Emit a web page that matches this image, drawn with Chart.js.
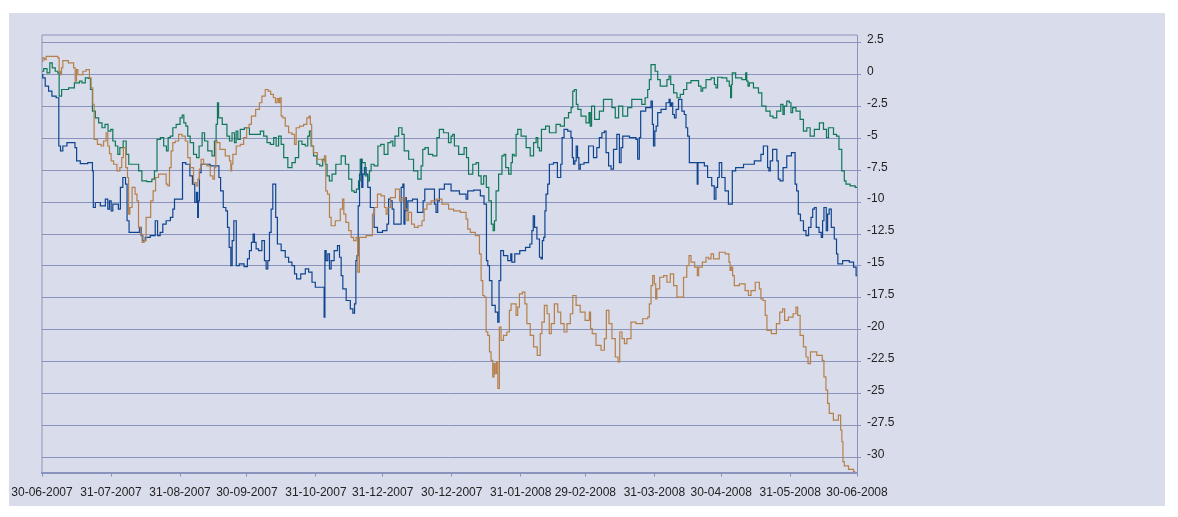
<!DOCTYPE html>
<html>
<head>
<meta charset="utf-8">
<script src="https://cdn.jsdelivr.net/npm/chart.js@4/dist/chart.umd.min.js"></script>
<style>
	body { margin:0; background:#fff; }
	#box { position:absolute; left:9px; top:13px; width:1156px; height:493px; background:#d9dcea; }
	#c { position:absolute; left:0; top:0; }
</style>
</head>
<body>
<div id="box"><canvas id="c" width="1156" height="496"></canvas></div>
<script>
// days since 30-06-2007 on x, performance (%) on y
const tickDays = [0, 31, 62, 92, 123, 153, 184, 215, 244, 275, 305, 336, 366]
const tickLabels = ['30-06-2007', '31-07-2007', '31-08-2007', '30-09-2007', '31-10-2007', '31-12-2007', '30-12-2007', '31-01-2008', '29-02-2008', '31-03-2008', '30-04-2008', '31-05-2008', '30-06-2008']
const yTicks = [2.5, 0, -2.5, -5, -7.5, -10, -12.5, -15, -17.5, -20, -22.5, -25, -27.5, -30]

const green = [
	[0,0.26],[1.5,0.47],[3,0.13],[4,0.91],[5.2,0.52],[6.7,0.26],[7.5,0.13],[7.9,-1.69],[9.7,-1.17],[14.2,-1.04],[14.9,-0.65],[16.5,-0.65],[17.2,-0.52],[18.7,-0.65],[20.2,-0.26],[21.4,-0.31],[22.1,-1.17],[23.2,-2.86],[24.7,-3.39],[26.2,-3.78],[27.7,-4.17],[28.9,-3.91],[30.4,-4.43],[31.4,-4.3],[32.2,-5.21],[33.7,-5.6],[34.4,-6.25],[35.5,-5.73],[37.4,-5.21],[38.2,-6.25],[39.7,-7.03],[42.7,-7.03],[44.1,-7.55],[45.6,-8.33],[48.6,-8.39],[50.1,-8.2],[50.9,-7.55],[52.4,-5.08],[53.9,-4.95],[55.4,-5.6],[56.4,-5.99],
	[56.9,-4.95],[58.4,-4.82],[59.1,-4.17],[61.4,-3.91],[62.6,-3.39],[63.3,-3.18],[64.1,-3.78],[65.1,-4.04],[65.8,-4.82],[67.3,-5.34],[68.8,-6.25],[70,-6.51],[71.1,-5.6],[72.7,-4.56],[73.3,-5.21],[75.6,-5.99],[77.1,-6.38],[77.8,-5.21],[78.6,-3.91],[79,-2.21],[79.6,-3.39],[82.3,-3.91],[83.8,-4.82],[84.6,-5.21],[86.1,-4.56],[86.8,-5.34],[87.6,-4.43],[88.3,-5.08],[89.8,-4.3],[92,-4.17],[94.3,-4.69],[97.3,-4.69],[98.8,-4.43],[100.3,-4.82],[101.8,-5.34],[103.3,-5.47],[104.8,-4.95],[105.5,-5.6],[107,-4.82],[107.8,-5.47],[109.3,-6.51],[111.5,-7.29],[113,-6.9],[114.5,-6.51],[116,-5.21],
	[117.5,-5.47],[119,-5.6],[119.7,-4.82],[120.5,-4.43],[121.2,-5.6],[122.7,-6.38],[124.2,-7.03],[125.3,-7.16],[126.8,-6.64],[127.7,-7.03],[128.3,-7.94],[129.8,-8.33],[130.7,-7.81],[133.2,-7.03],[135.5,-6.38],[137,-7.03],[138.5,-8.2],[139.7,-9.11],[140.7,-9.24],[141.7,-8.98],[142.6,-8.33],[143.2,-6.64],[144.4,-6.9],[145.9,-7.94],[146.7,-8.33],[147.4,-7.55],[148.2,-7.03],[150.1,-7.16],[151.6,-5.6],[152.7,-5.47],[154.6,-6.25],[156.1,-5.34],[157.2,-5.21],[157.9,-5.6],[159.1,-4.82],[161.2,-4.17],[162.1,-4.69],[163.2,-5.99],[166.1,-6.64],[167.6,-7.55],[169.9,-8.2],[170.6,-7.16],[171.4,-5.86],[172.6,-5.73],[174.4,-6.25],[176.6,-6.38],
	[178.1,-4.95],[178.8,-4.3],[181.8,-4.56],[183.3,-5.34],[184.1,-4.82],[184.8,-4.69],[185.6,-5.6],[188.6,-6.25],[190.5,-5.73],[190.8,-6.51],[192.3,-7.81],[194.6,-7.03],[195.3,-6.9],[196.8,-7.94],[197.6,-8.59],[199.1,-7.94],[200,-8.85],[201.3,-9.9],[202.3,-11.72],[202.9,-12.24],[203.5,-11.46],[204.3,-9.11],[205.8,-7.81],[207.3,-6.38],[207.7,-6.25],[208.8,-7.29],[210.3,-7.81],[211,-6.9],[211.5,-6.25],[212.5,-6.38],[213.3,-4.69],[214,-4.3],[216.3,-4.82],[218.5,-5.73],[220,-6.38],[221.5,-5.34],[222.3,-4.95],[223,-5.73],[223.8,-5.99],[224.8,-4.3],[227.5,-4.04],[228.2,-4.56],[229.7,-4.56],[232,-3.91],[233.5,-4.04],[235.7,-3.39],[237.2,-2.99],[238,-2.6],[238.7,-1.3],[239.5,-1.17],[240.4,-2.34],
	[240.9,-2.73],[243.2,-3.26],[245.4,-3.78],[245.9,-2.99],[246.5,-4.04],[247.1,-2.47],[249.2,-3.52],[251.4,-2.86],[252.9,-1.95],[255.2,-1.95],[256.7,-2.6],[258.2,-3.39],[259.7,-2.47],[261.9,-3.26],[264.1,-2.6],[265.6,-1.95],[268.6,-1.95],[270.1,-2.34],[271.6,-1.82],[272.4,-1.17],[273.1,-0.39],[273.9,0.78],[274.6,0.78],[276.1,0.26],[276.9,-0.39],[278.4,-0.91],[279.9,-0.91],[281.4,-0.39],[281.8,-0.13],[282.9,-0.78],[284.4,-1.43],[285.9,-1.82],[287.4,-1.56],[288.8,-1.17],[290.3,-0.65],[292.6,-0.47],[294.1,-0.47],[295.6,-0.91],[296.3,-1.3],[297.1,-1.04],[299.3,-0.39],[301.6,-0.26],
	[302.3,-0.78],[303,-1.04],[303.8,-0.21],[306.8,-0.26],[308.3,-0.52],[309,-0.91],[309.5,-1.82],[309.8,-0.78],[310.2,0.13],[312.8,-0.26],[315.8,-0.39],[316.2,0.13],[316.8,-0.52],[317.3,-0.91],[318,-0.65],[321,-1.04],[322.5,-1.43],[324,-2.47],[326.2,-2.86],[327.7,-3.26],[328.9,-3.39],[331,-2.86],[332.5,-2.34],[333,-3.13],[333.7,-2.47],[335.2,-2.08],[336,-2.21],[336.7,-2.99],[337.5,-2.6],[339.7,-2.86],[341.2,-3.52],[342.7,-4.43],[344.2,-4.17],[345.7,-4.82],[348,-4.3],[350.2,-3.78],[351.7,-4.3],[352.9,-4.95],[353.5,-4.17],[354.7,-4.17],[356.2,-4.69],[357.4,-4.82],[358.4,-5.86],[359.9,-7.55],[360.7,-8.33],[361.4,-8.59],[364.4,-8.72],[366,-8.85]
]

const blue = [
	[0,0],[0.7,-0.26],[2.2,-0.91],[3.7,-1.3],[5.2,-1.69],[7.5,-1.82],[7.6,-5.6],[9,-5.99],[9.7,-5.6],[12.7,-5.34],[14.2,-5.34],[15.4,-5.73],[15.7,-6.77],[18.7,-6.98],[22.4,-6.9],[22.9,-7.55],[23.2,-10.42],[24.7,-10.03],[27.7,-10.29],[29.2,-9.77],[29.9,-10.55],[30.7,-9.9],[31.4,-10.68],[32.2,-10.16],[33.7,-10.16],[34.9,-10.55],[35.5,-8.85],[37.1,-8.07],[37.9,-8.59],[38.5,-11.46],[39.7,-12.37],[43.4,-12.37],[44.1,-11.98],[44.9,-12.63],[45.6,-13.02],[47.1,-12.76],[50.1,-12.63],[51.6,-11.46],[52.2,-12.63],[53.9,-12.37],[54.6,-11.72],
	[56.9,-11.46],[58.4,-11.2],[59.1,-10.55],[59.9,-9.77],[62.9,-9.77],[63.3,-6.9],[65.8,-7.03],[67,-7.94],[68.1,-8.59],[69.1,-10.03],[69.6,-9.24],[70.2,-11.2],[70.3,-9.9],[71.1,-7.68],[71.8,-7.03],[79.3,-7.16],[79.6,-8.07],[80.8,-9.11],[82,-10.42],[83.1,-10.68],[83.5,-11.98],[84.6,-13.54],[85,-14.97],[85.8,-13.02],[86.5,-11.46],[87.1,-11.46],[87.4,-14.97],[89.8,-14.84],[91.7,-15.05],[92.8,-14.45],[93.5,-13.8],[94.6,-13.15],[95,-12.5],[95.8,-13.15],[96.5,-13.67],[98,-13.8],[99.5,-13.02],[100.3,-14.58],[101,-15.23],[101.8,-14.58],[102.5,-12.37],[103.3,-10.55],[104,-8.59],[104.8,-8.59],[105.1,-11.2],[106.3,-13.28],[108.5,-13.8],[110,-14.32],[111.5,-14.71],[113,-14.97],[113.8,-15.63],[114.9,-16.02],[117.5,-15.63],
	[119,-15.23],[120.5,-15.49],[122,-16.28],[123.5,-16.67],[126.5,-16.67],[126.9,-19.01],[127.2,-13.8],[128,-14.58],[128.7,-14.06],[129.5,-15.23],[130.2,-14.58],[132.2,-13.8],[133.2,-13.41],[134,-14.32],[134.7,-15.76],[135.5,-16.8],[137.7,-17.71],[139.2,-18.36],[140,-18.7],[140.7,-17.97],[141.2,-14.58],[141.7,-14.19],[142.3,-10.29],[142.9,-7.81],[143.4,-6.64],[143.8,-8.85],[144.4,-7.81],[145.2,-7.29],[145.9,-7.81],[146.7,-8.85],[148.2,-10.42],[150.1,-11.98],[151.2,-12.37],[154.6,-12.24],[155.2,-11.72],[156.1,-9.77],[156.9,-9.9],[157.6,-10.55],[158.4,-11.72],[160.9,-11.72],[161.7,-8.85],[162.4,-8.59],[162.7,-11.72],[163.3,-9.64],[163.9,-10.68],[164.7,-9.9],[168.1,-9.77],[169.1,-10.81],[170.6,-10.81],[171.7,-9.9],[172.1,-8.98],[175.9,-8.98],[176.6,-10.16],
	[177.3,-10.81],[178.1,-9.9],[178.8,-8.98],[182.6,-8.59],[184.8,-9.11],[190.1,-9.38],[190.8,-9.77],[191.6,-9.11],[196.1,-9.06],[197.6,-9.51],[199.4,-10.16],[199.8,-14.58],[200.6,-14.97],[201.3,-16.15],[202.8,-18.1],[204.3,-18.62],[205,-19.4],[205.5,-16.15],[206.5,-13.8],[208,-14.19],[210.3,-14.58],[210.7,-14.06],[211.3,-14.71],[213.3,-14.06],[215.8,-13.8],[218.5,-13.54],[219.7,-13.28],[220.3,-12.24],[220.9,-11.07],[221.5,-11.98],[223,-12.89],[223.8,-14.32],[224.5,-14.45],[224.9,-13.02],[225.7,-12.76],[226,-10.68],[226.7,-9.38],[227.5,-8.59],[228.2,-7.03],[231.2,-6.9],[231.7,-8.07],[232.7,-8.07],[233.2,-7.03],[233.9,-4.95],[235,-4.3],[237.2,-4.43],
	[237.9,-4.95],[238.4,-6.51],[239,-7.03],[239.6,-6.77],[240.2,-5.6],[240.8,-6.51],[241.4,-7.42],[242.1,-7.03],[244.7,-6.9],[246.2,-5.6],[246.9,-5.6],[248.4,-6.51],[249.9,-5.73],[250.7,-4.95],[252.2,-4.56],[252.9,-4.43],[253.7,-6.12],[255.2,-7.16],[255.9,-7.42],[257.4,-5.86],[258.9,-4.69],[259.7,-6.9],[260.4,-5.73],[261.2,-4.82],[266.4,-4.95],[267.1,-5.08],[267.9,-6.64],[268.6,-4.95],[269.1,-2.86],[273.1,-2.6],[273.9,-2.08],[274.3,-3.91],[274.9,-5.6],[275.5,-4.43],[276.1,-4.04],[276.9,-2.99],[279.1,-2.73],[281.4,-2.21],[281.8,-1.95],[282.4,-2.47],[282.9,-2.21],[283.6,-3.13],[284.4,-3.39],[285.1,-2.73],[286.6,-1.95],[288.1,-2.86],[288.8,-3.13],[289.6,-4.17],[290.3,-4.82],[291.1,-6.9],[294.1,-6.9],[294.4,-8.59],[294.8,-6.9],[297.1,-6.9],
	[297.8,-7.16],[300,-8.07],[301.5,-8.72],[302.3,-9.77],[303,-8.85],[303.8,-8.07],[304.5,-6.9],[306,-8.07],[307.5,-9.11],[309,-10.16],[309.8,-10.16],[310.2,-7.55],[312.8,-7.29],[317.3,-7.03],[322.5,-6.77],[323.2,-6.25],[324.7,-5.6],[325.5,-5.6],[326.2,-7.29],[326.7,-7.55],[327.4,-6.77],[328.8,-5.86],[329.7,-5.86],[330.3,-6.77],[331,-8.2],[331.9,-8.33],[333.7,-7.29],[335.2,-6.38],[337.9,-6.12],[338.5,-8.59],[339.3,-9.11],[340,-10.94],[341.2,-11.46],[342.7,-12.24],[343.5,-12.63],[345,-11.98],[345.7,-11.2],[346.5,-10.55],[347.2,-10.42],[348.2,-11.98],[349.7,-12.37],[350.2,-12.76],[350.9,-11.46],[351.4,-10.42],[352,-10.42],[352.4,-12.24],[353.2,-10.94],[353.8,-10.55],[355.1,-11.98],[356.5,-12.89],[357.1,-14.06],[357.7,-14.84],[361.4,-14.58],[363.7,-14.71],[365.2,-15.1],[366,-15.76]
]

const brown = [
	[0,1.04],[0.7,1.3],[1.5,1.17],[2.2,1.43],[6.7,1.43],[7.5,1.3],[7.9,0.26],[8.5,0],[9,0.52],[9.7,1.09],[13.9,0.91],[14.5,0.52],[15.3,-0.52],[15.7,0.39],[16.5,0],[18,0],[18.7,0.26],[20.9,0.39],[21.7,-0.26],[22.4,-1.04],[23.2,-2.34],[23.6,-5.08],[26.2,-5.47],[26.9,-5.6],[28.4,-5.21],[29.2,-4.56],[29.9,-5.6],[30.7,-6.2],[31.4,-6.77],[32.9,-7.03],[34.4,-7.55],[35.5,-7.29],[36.1,-6.51],[37,-5.73],[38.2,-7.29],[38.6,-8.07],[39.2,-10.94],[39.7,-10.42],[41.2,-8.85],[42.4,-9.38],[42.9,-9.9],[43.8,-11.98],[44.6,-12.5],[45.3,-13.15],[46.4,-13.02],[47.1,-11.2],[48.2,-11.2],[49.4,-9.9],[50.4,-9.11],[51.6,-8.07],[53.1,-7.81],[55.4,-7.81],[56.1,-8.59],[56.9,-8.72],[57.6,-7.29],[58.4,-5.99],
	[59.1,-5.34],[60.6,-5.21],[62.1,-4.69],[63.6,-4.82],[65.1,-5.21],[65.8,-6.51],[67.3,-7.29],[68.8,-8.46],[69.6,-8.72],[70.3,-8.2],[71.1,-7.42],[71.8,-6.64],[73.3,-7.03],[74.8,-7.16],[76.3,-7.94],[77.1,-8.2],[77.8,-7.29],[78.3,-5.21],[79,-5.34],[80.8,-5.86],[83.8,-6.38],[84.6,-6.77],[85,-7.55],[85.3,-7.03],[86.1,-6.25],[88.3,-5.6],[89.8,-5.47],[91.3,-4.95],[92.5,-4.17],[93.5,-3.91],[94.6,-3.26],[97.3,-2.73],[98,-2.21],[99.5,-1.69],[101,-1.17],[102.1,-1.3],[103.3,-1.56],[104.5,-1.82],[105.2,-2.21],[106,-1.88],[106.6,-2.21],[107,-1.82],[107.8,-3.26],[108.5,-3.39],[110,-4.04],[111.5,-4.56],[113,-4.69],[113.8,-5.47],[114.5,-4.17],[116.8,-4.04],[118.2,-3.91],[119.7,-3.39],
	[120.2,-3.26],[120.8,-3.91],[121.4,-5.6],[122.3,-6.12],[125,-6.64],[126.5,-6.77],[127.2,-6.38],[127.7,-9.11],[128.7,-9.38],[129.5,-11.2],[130.2,-11.85],[133.2,-11.46],[134.7,-10.55],[135.2,-9.77],[135.9,-10.94],[137,-11.59],[138.5,-12.24],[139.2,-12.76],[140.7,-13.02],[141.4,-12.76],[142.2,-15.49],[142.9,-12.76],[148.2,-12.63],[148.6,-10.94],[150.1,-10.42],[151.2,-9.38],[153.4,-9.51],[154.2,-10.42],[154.9,-10.94],[155.7,-10.42],[157.2,-9.64],[160.2,-8.98],[160.9,-9.9],[162.4,-9.64],[163.6,-10.55],[164.2,-11.46],[165,-10.81],[166.9,-11.72],[167.6,-11.98],[170.2,-11.85],[171.1,-11.46],[172.1,-10.55],[173.6,-10.16],[175.9,-9.9],
	[178.1,-9.77],[181.1,-10.16],[184.1,-10.55],[185.6,-10.68],[190.1,-10.81],[190.8,-11.33],[191.6,-12.11],[193.1,-12.37],[196.1,-12.63],[196.8,-14.06],[197.6,-16.15],[198.3,-17.32],[199.1,-17.45],[199.8,-20.18],[200.6,-20.44],[201.3,-21.74],[202,-22.4],[202.8,-23.7],[203.2,-22.66],[203.8,-23.44],[204.4,-22.53],[205,-24.61],[205.8,-19.79],[206.5,-20.83],[208,-20.44],[209.5,-20.18],[210.3,-18.49],[211,-17.97],[212.5,-17.97],[213.3,-18.88],[214,-18.23],[214.8,-17.19],[216.7,-17.06],[217,-17.97],[218.5,-19.53],[220,-20.44],[221.5,-21.35],[223.3,-22.01],[224.2,-20.31],[224.8,-19.4],[226.4,-18.1],[227.2,-18.75],[228.4,-20.31],[229,-19.53],[231.2,-17.97],[232,-18.62],[233.9,-19.53],[235,-20.18],[236.5,-19.53],[238,-18.75],[238.7,-17.32],[241,-18.1],
	[242.4,-18.62],[245.4,-19.27],[246.2,-18.62],[246.5,-19.92],[247.7,-20.31],[249.9,-21.22],[252.2,-21.61],[252.9,-20.7],[254,-18.49],[255.2,-19.53],[256.7,-20.7],[258.2,-22.14],[259.2,-22.53],[259.7,-20.18],[261.2,-20.7],[261.9,-21.09],[263.4,-20.7],[265.6,-19.4],[267.9,-19.53],[271.6,-19.14],[272.4,-19.01],[273.1,-17.97],[273.9,-16.54],[274.6,-15.76],[275.4,-16.41],[275.8,-17.58],[276.4,-16.8],[278.4,-15.89],[279.9,-15.76],[281.4,-16.28],[282.9,-15.63],[284.4,-16.54],[285.9,-17.45],[287.4,-17.45],[288.8,-15.89],[290.3,-14.97],[290.8,-14.19],[292.1,-14.71],[294.1,-15.1],[294.5,-15.76],[295.3,-15.1],[297.8,-14.71],[298.6,-14.32],[300.1,-14.45],[300.8,-14.06],[302.3,-14.45],
	[303,-14.45],[305.3,-13.93],[308.3,-14.06],[308.7,-14.71],[309.3,-15.36],[309.8,-15.1],[310.5,-15.76],[311.3,-16.54],[315,-16.41],[316.5,-16.93],[318,-17.32],[318.8,-16.93],[321.8,-16.28],[322.5,-16.8],[323.2,-17.58],[324.4,-17.71],[325.2,-18.88],[325.9,-20.05],[329.2,-20.31],[330.4,-19.53],[332.2,-18.62],[333,-18.36],[334,-19.27],[336.4,-19.01],[338.2,-18.75],[339,-18.23],[339.7,-18.88],[341.2,-20.44],[342.7,-21.35],[343.5,-22.14],[344.5,-22.66],[345.7,-21.74],[350.2,-22.01],[350.6,-22.4],[351.7,-23.7],[352.4,-24.74],[353.2,-25.78],[353.9,-26.56],[356.9,-27.08],[358.4,-26.69],[358.9,-27.86],[359.5,-28.78],[359.9,-30.34],[360.7,-30.68],[363.7,-30.94],[365.2,-31.12]
]

const gridCol = '#8a93bd'
const fontFam = "'Liberation Sans', Arial, sans-serif"

const mk = (d, col) => ({
	data: d.map(p => ({x:p[0], y:p[1]})),
	borderColor: col,
	borderWidth: 1.2,
	pointRadius: 0,
	fill: false,
	stepped: 'middle',
})

// thin frame round the plot area (top + left edge)
const frame = {
	id: 'frame',
	beforeDatasetsDraw(c) {
		const a = c.chartArea, x = c.ctx
		x.save()
		x.strokeStyle = gridCol
		x.lineWidth = 1
		x.beginPath()
		x.moveTo(a.left, a.bottom)
		x.lineTo(a.left, a.top)
		x.lineTo(a.right, a.top)
		x.stroke()
		x.restore()
	}
}

new Chart(document.getElementById('c'), {
	type: 'line',
	data: {
		datasets: [mk(brown, '#b5804c'), mk(green, '#10785a'), mk(blue, '#0f4590')]
	},
	options: {
		responsive: false,
		animation: false,
		layout: { padding: { left: 33, top: 22, right: 262, bottom: 0 } },
		plugins: { legend: { display: false }, tooltip: { enabled: false } },
		scales: {
			x: {
				type: 'linear',
				min: 0, max: 366,
				afterBuildTicks: s => { s.ticks = tickDays.map(v => ({value:v})) },
				afterFit: s => { s.paddingLeft = 0; s.paddingRight = 0 },
				grid: { drawOnChartArea: false, drawTicks: true, tickLength: 4, color: gridCol },
				border: { color: gridCol, width: 2 },
				ticks: {
					autoSkip: false, maxRotation: 0, padding: 9,
					color: '#222', font: { family: fontFam, size: 12 },
					callback: (v, i) => tickLabels[i]
				}
			},
			y: {
				position: 'right',
				min: -31.2, max: 3.1,
				afterBuildTicks: s => { s.ticks = yTicks.map(v => ({value:v})) },
				afterFit: s => { s.width = 46 },
				grid: { color: gridCol, lineWidth: 1, tickLength: 4 },
				border: { color: gridCol, width: 1 },
				ticks: {
					padding: 6, labelOffset: -3,
					color: '#222', font: { family: fontFam, size: 12 },
					callback: v => String(v)
				}
			}
		}
	},
	plugins: [frame]
})
</script>
</body>
</html>
